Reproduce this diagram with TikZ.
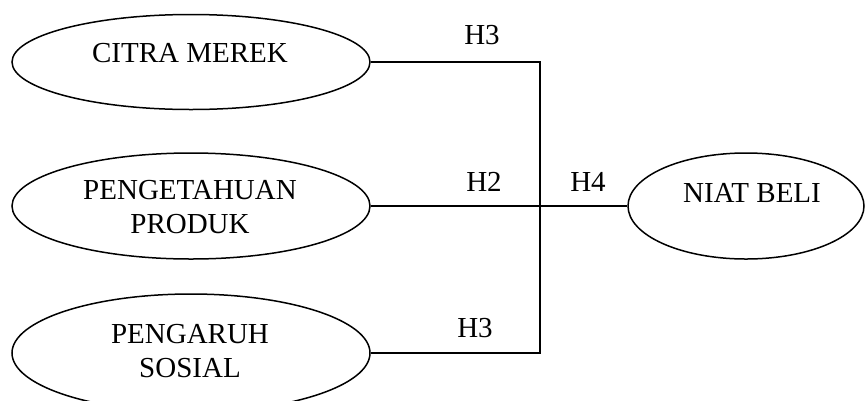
\documentclass[tikz,border=0pt]{standalone}
\usepackage{fontspec}
\setmainfont{Liberation Serif}
\usetikzlibrary{shapes.geometric}
\begin{document}
\begin{tikzpicture}[x=1pt,y=-1pt,
  ell/.style={draw, ellipse, line width=1.5pt, inner sep=0pt},
  txt/.style={font=\fontsize{29}{34}\selectfont, align=center, inner sep=0pt},
  conn/.style={line width=1.7pt}]
\useasboundingbox (0,0) rectangle (866,400);
\clip (0,0) rectangle (866,400);
\node[ell, minimum width=358pt, minimum height=95pt] (c1) at (191,62) {};
\node[ell, minimum width=358pt, minimum height=106pt] (c2) at (191,206) {};
\node[ell, minimum width=358pt, minimum height=118pt] (c3) at (191,353) {};
\node[ell, minimum width=236pt, minimum height=106pt] (n) at (746,206) {};
\node[txt] (t1) at (190,53) {CITRA MEREK};
\node[txt] (t2) at (190,207) {PENGETAHUAN\\PRODUK};
\node[txt] (t3) at (190,351) {PENGARUH\\SOSIAL};
\node[txt] (t4) at (752,193) {NIAT BELI};
\coordinate (j) at (540,206);
\draw[conn] (c1.east) -| (j);
\draw[conn] (c3.east) -| (j);
\draw[conn] (c2.east) -- (n.west);
\node[txt] (h3a) at (482,35) {H3};
\node[txt] (h2) at (484,182) {H2};
\node[txt] (h4) at (588,182) {H4};
\node[txt] (h3b) at (475,328) {H3};
\end{tikzpicture}
\end{document}
